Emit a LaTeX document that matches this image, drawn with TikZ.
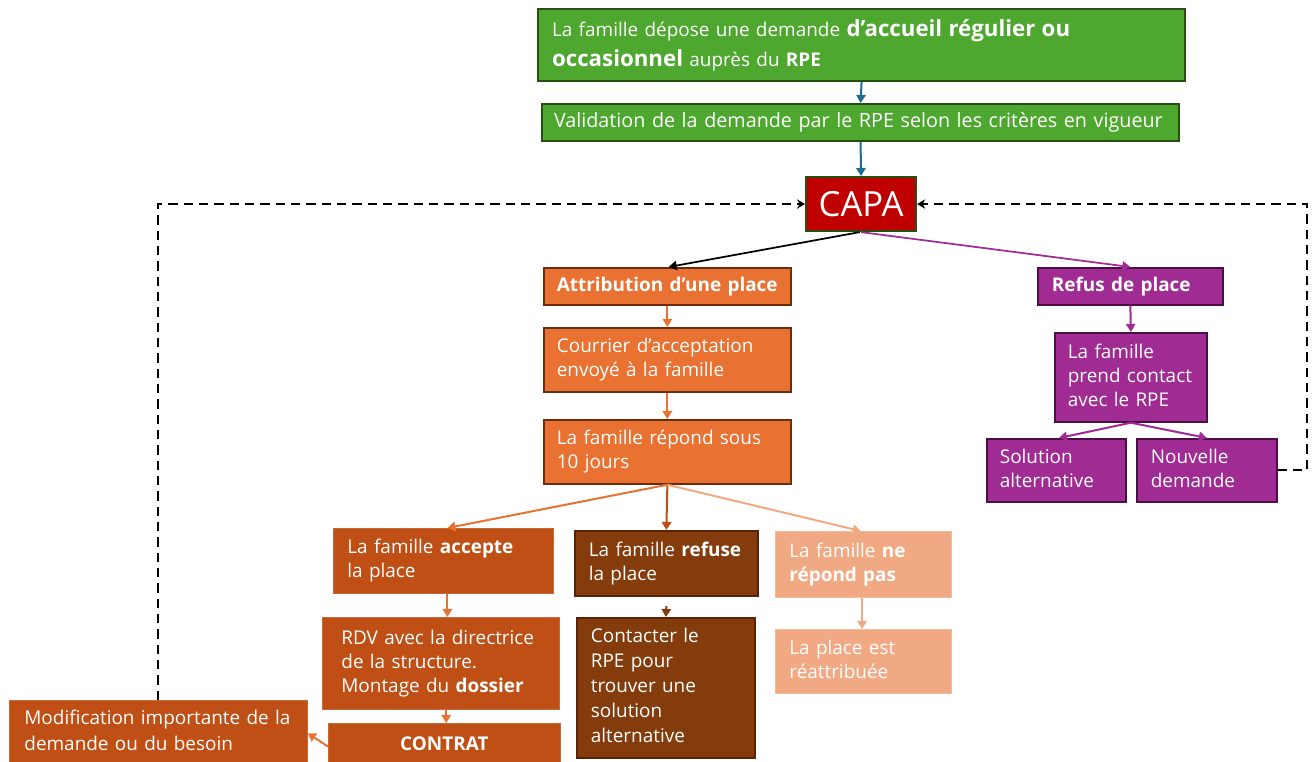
\documentclass[tikz,border=0pt]{standalone}
\usepackage{fontspec}
\setmainfont{Open Sans}
\usetikzlibrary{arrows.meta}
\definecolor{grn}{HTML}{4EA72E}
\definecolor{grnd}{HTML}{274E13}
\definecolor{bluear}{HTML}{1F6B8F}
\definecolor{capared}{HTML}{C00000}
\definecolor{org}{HTML}{E97132}
\definecolor{orgd}{HTML}{6B2E0C}
\definecolor{pur}{HTML}{A02B93}
\definecolor{purd}{HTML}{4A0F44}
\definecolor{dorg}{HTML}{C04F15}
\definecolor{brn}{HTML}{843C0C}
\definecolor{brnd}{HTML}{5A2207}
\definecolor{lor}{HTML}{F1A983}
\tikzset{
  base/.style={text=white, inner ysep=0pt, align=left, font=\fontsize{14.2}{18}\selectfont},
  greenbox/.style={base, fill=grn, draw=grnd, line width=1.6pt},
  capabox/.style={base, fill=capared, draw=grnd, line width=1.6pt, font=\fontsize{26}{28}\selectfont},
  orgbox/.style={base, fill=org, draw=orgd, line width=1.3pt},
  purbox/.style={base, fill=pur, draw=purd, line width=1.3pt},
  dorgbox/.style={base, fill=dorg, draw=dorg!85!white, line width=0.6pt},
  brnbox/.style={base, fill=brn, draw=brnd, line width=1.3pt},
  lorbox/.style={base, fill=lor, draw=lor!80!white, line width=0.6pt},
  arr/.style={line width=1.5pt, -{Triangle[width=7pt,length=6pt]}},
  dasharr/.style={line width=1.5pt, black, dash pattern=on 7pt off 4.5pt, -{Stealth[width=7pt,length=6pt]}},
}
% name x1 y1 x2 y2 style padleft text  (left aligned lines, no automatic wrapping)
\newcommand\bx[8]{%
  \pgfmathsetmacro\bxw{(#4-#2)*0.75}%
  \pgfmathsetmacro\bxh{(#5-#3)*0.75}%
  \pgfmathsetmacro\bxp{#7*0.75}%
  \pgfmathsetmacro\bxt{(#4-#2-2*#7)*0.75}%
  \node[#6, anchor=north west, minimum width=\bxw pt, minimum height=\bxh pt,
        inner xsep=\bxp pt, text width=\bxt pt] (#1) at (#2,#3)
        {\begin{tabular}{@{}l@{}}#8\end{tabular}};}
% centred variant: name x1 y1 x2 y2 style text
\newcommand\cbx[7]{%
  \pgfmathsetmacro\bxw{(#4-#2)*0.75}%
  \pgfmathsetmacro\bxh{(#5-#3)*0.75}%
  \node[#6, anchor=north west, minimum width=\bxw pt, minimum height=\bxh pt,
        inner xsep=0pt, align=center] (#1) at (#2,#3) {#7};}
\begin{document}
\begin{tikzpicture}[x=0.75pt,y=-0.75pt]
\useasboundingbox (0,0) rectangle (1315,762);
% green
\bx{g1}{537}{8}{1184}{80}{greenbox, font=\fontsize{14.2}{22.5}\selectfont}{14}{La famille dépose une demande {\fontsize{16.7}{22.5}\selectfont\bfseries d’accueil régulier ou}\\{\fontsize{16.7}{22.5}\selectfont\bfseries occasionnel} auprès du \textbf{RPE}}
\bx{g2}{541}{103}{1178}{140}{greenbox, font=\fontsize{14.8}{18}\selectfont}{12}{Validation de la demande par le RPE selon les critères en vigueur}
\cbx{capa}{805}{176}{915}{230}{capabox}{CAPA}
% orange column
\bx{attr}{543}{267}{790}{304}{orgbox}{13}{\textbf{Attribution d’une place}}
\bx{cour}{543}{327}{790}{391}{orgbox}{13}{Courrier d’acceptation\\envoyé à la famille}
\bx{rep}{543}{419}{790}{483}{orgbox}{13}{La famille répond sous\\10 jours}
% purple
\bx{refus}{1037}{267}{1222}{304}{purbox}{14}{\textbf{Refus de place}}
\bx{contact}{1054}{332}{1206}{421}{purbox}{13}{La famille\\prend contact\\avec le RPE}
\bx{sol}{986}{438}{1125}{501}{purbox}{13}{Solution\\alternative}
\bx{nouv}{1136}{438}{1276}{501}{purbox}{14}{Nouvelle\\demande}
% answers
\bx{acc}{333}{528}{553}{593}{dorgbox}{14}{La famille \textbf{accepte}\\la place}
\bx{ref}{574}{530}{757}{595}{brnbox}{14}{La famille \textbf{refuse}\\la place}
\bx{nerep}{775}{531}{951}{597}{lorbox}{14}{La famille \textbf{ne}\\\textbf{répond pas}}
\bx{rdv}{322}{617}{559}{709}{dorgbox}{19}{RDV avec la directrice\\de la structure.\\Montage du \textbf{dossier}}
\cbx{contrat}{328}{723}{560}{764}{dorgbox}{\textbf{CONTRAT}}
\bx{contacter}{576}{617}{754}{757}{brnbox, font=\fontsize{14.2}{18.75}\selectfont}{14}{Contacter le\\RPE pour\\trouver une\\solution\\alternative}
\bx{replace}{775}{629}{951}{693}{lorbox}{14}{La place est\\réattribuée}
\bx{modif}{9}{700}{307}{763}{dorgbox, font=\fontsize{14.2}{19.5}\selectfont}{15}{Modification importante de la\\demande ou du besoin}
% connectors
\draw[arr, bluear] (g1.south) -- (g2.north);
\draw[arr, bluear] (g2.south) -- (capa.north);
\draw[arr, black, line width=1.3pt] ([xshift=-1pt]capa.south) -- ([xshift=1pt]attr.north);
\draw[arr, pur, line width=1.3pt] (capa.south) -- (refus.north);
\draw[arr, org] (attr.south) -- (cour.north);
\draw[arr, org] (cour.south) -- (rep.north);
\draw[arr, org] (rep.south) -- ([xshift=3pt]acc.north);
\draw[arr, dorg] (rep.south) -- (ref.north);
\draw[arr, lor] (rep.south) -- ([xshift=-2pt]nerep.north);
\draw[arr, pur] (refus.south) -- (contact.north);
\draw[arr, pur] (contact.south) -- ([xshift=2pt]sol.north);
\draw[arr, pur] (contact.south) -- (nouv.north);
\draw[arr, org] ([xshift=3pt]acc.south) -- ([xshift=3pt]acc.south |- rdv.north);
\draw[arr, org] ([xshift=4pt]rdv.south) -- ([xshift=4pt]rdv.south |- contrat.north);
\draw[arr, brn] ([yshift=-7pt]ref.south) -- (contacter.north);
\draw[arr, lor] ([xshift=-1pt]nerep.south) -- ([xshift=-1pt]nerep.south |- replace.north);
\draw[arr, org] ([yshift=-2pt]contrat.west) -- ([yshift=-1pt]modif.east);
\coordinate (rc) at (1307,469);
\draw[dasharr] (nouv.east) -- (nouv.east -| rc) |- (capa.east);
\draw[dasharr] (modif.north) |- (capa.west);
\end{tikzpicture}
\end{document}
